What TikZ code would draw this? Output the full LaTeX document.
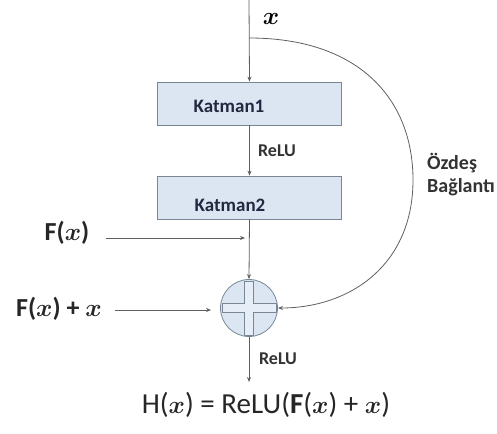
\documentclass[tikz,border=0pt]{standalone}
\usepackage{amsmath,bm}
\usepackage{fontspec}
\setmainfont{Carlito}
\usetikzlibrary{arrows.meta,calc}
\definecolor{boxfill}{RGB}{220,230,242}
\definecolor{boxline}{RGB}{120,135,150}
\definecolor{lin}{RGB}{95,95,95}
\definecolor{ktext}{RGB}{35,40,65}
\tikzset{
  layer/.style={draw=boxline, fill=boxfill, line width=0.8pt, minimum width=184pt, minimum height=43pt, inner sep=0pt},
  conn/.style={draw=lin, line width=0.8pt, -{Stealth[length=5pt,width=4pt]}},
  small/.style={font=\fontsize{18}{20}\selectfont\bfseries, text=black!80, inner sep=0pt},
  side/.style={small, anchor=west, font=\fontsize{20}{22}\selectfont\bfseries},
  big/.style={font=\fontsize{26}{30}\selectfont\bfseries, inner sep=0pt, text=black!85},
}
\begin{document}
\begin{tikzpicture}[x=1pt,y=-1pt]
\useasboundingbox (0,0) rectangle (497,433);
\coordinate (top) at (249,0);
\coordinate (split) at (249,38);
\node[layer] (k1) at (249.5,103.5) {};
\node[small, text=ktext, font=\fontsize{19}{21}\selectfont\bfseries] (k1t) at (229,106) {Katman1};
\node[layer] (k2) at (249.5,197.5) {};
\node[small, text=ktext, font=\fontsize{19}{21}\selectfont\bfseries] (k2t) at (230,205) {Katman2};
\node[circle, draw=boxline, fill=boxfill, line width=0.8pt, minimum size=57pt, inner sep=0pt] (sum) at (249,308) {};
\draw[boxline, line width=0.6pt, fill=boxfill!70!white]
  ($(sum.center)+(-4.5,-27)$) -- ++(9,0) -- ++(0,22.5) -- ++(22.5,0) -- ++(0,9) -- ++(-22.5,0) -- ++(0,22.5) -- ++(-9,0) -- ++(0,-22.5) -- ++(-22.5,0) -- ++(0,-9) -- ++(22.5,0) -- cycle;
\node[font=\fontsize{24}{26}\selectfont, inner sep=0pt] (xl) at (271,19) {$\bm{x}$};
\draw[conn] (top) -- (k1.north);
\draw[conn] (k1.south) -- (k2.north);
\node[small] (relu1) at (277,151) {ReLU};
\draw[conn] (k2.south) -- (sum.north);
\node[big] (fx) at (67,233) {F($\bm{x}$)};
\coordinate (fxe) at (245,238);
\coordinate (fxs) at (106,238);
\draw[conn] (fxs) -- (fxe);
\node[big] (fxx) at (59,309) {F($\bm{x}$) + $\bm{x}$};
\coordinate (fxxs) at (115,310);
\coordinate (fxxe) at (211,310);
\draw[conn] (fxxs) -- (fxxe);
\draw[draw=lin, line width=0.8pt, -{Stealth[length=5pt,width=4pt]}] (split) .. controls (360,38) and (413,100) .. (413,180) .. controls (413,265) and (350,308) .. (sum.east);
\node[side] (ozd) at (427,163) {Özdeş};
\node[side] (bag) at (427,187) {Bağlantı};
\coordinate (out) at (249,382);
\draw[conn] (sum.south) -- (out);
\node[small] (relu2) at (278,359) {ReLU};
\node[big, font=\fontsize{29}{32}\selectfont] (hx) at (266,405) {H($\bm{x}$) = ReLU(\textbf{F}($\bm{x}$) + $\bm{x}$)};
\end{tikzpicture}
\end{document}
